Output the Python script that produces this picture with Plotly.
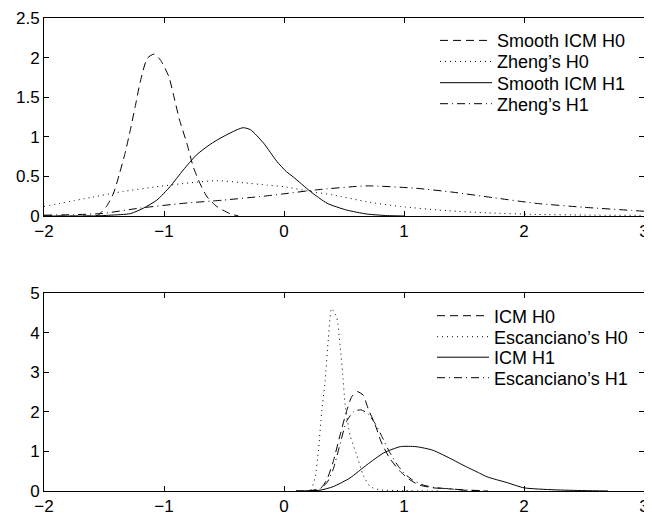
import plotly.graph_objects as go

W, H = 652, 517
OFF = 8  # page body margin of the hosting html page

# ---------------- top panel data ----------------
sicm_h0_x = [-2.0, -1.6, -1.55, -1.48, -1.42, -1.37, -1.325, -1.28, -1.24, -1.2, -1.14, -1.083,
             -1.03, -0.96, -0.91, -0.87, -0.81, -0.756, -0.7, -0.64, -0.56, -0.45, -0.38]
sicm_h0_y = [0.0, 0.0, 0.01, 0.12, 0.29, 0.54, 0.79, 1.09, 1.38, 1.68, 1.99, 2.045,
             1.97, 1.76, 1.46, 1.21, 0.92, 0.62, 0.41, 0.24, 0.12, 0.03, 0.0]

zheng_h0_x = [-2.0, -1.59, -1.34, -1.06, -0.78, -0.56, -0.34, -0.14, 0.0, 0.22, 0.41, 0.69,
              0.97, 1.36, 1.69, 2.1, 2.5, 3.0]
zheng_h0_y = [0.12, 0.24, 0.31, 0.37, 0.42, 0.446, 0.42, 0.39, 0.37, 0.31, 0.265, 0.18,
              0.12, 0.067, 0.04, 0.02, 0.012, 0.008]

sicm_h1_x = [-2.0, -1.6, -1.45, -1.28, -1.17, -1.06, -0.95, -0.84, -0.73, -0.62, -0.51, -0.39,
             -0.34, -0.28, -0.17, -0.06, 0.02, 0.08, 0.22, 0.36, 0.52, 0.69, 0.86, 1.0]
sicm_h1_y = [0.0, 0.0, 0.01, 0.03, 0.1, 0.2, 0.37, 0.58, 0.77, 0.9, 1.0, 1.09,
             1.115, 1.09, 0.92, 0.69, 0.56, 0.49, 0.31, 0.16, 0.076, 0.025, 0.005, 0.0]

zheng_h1_x = [-2.0, -1.53, -1.2, -0.84, -0.51, -0.17, 0.0, 0.27, 0.69, 1.1, 1.41, 1.75,
              2.1, 2.5, 2.9, 3.0]
zheng_h1_y = [0.01, 0.03, 0.1, 0.16, 0.2, 0.25, 0.28, 0.33, 0.38, 0.35, 0.30, 0.23,
              0.16, 0.11, 0.07, 0.06]

# ---------------- bottom panel data ----------------
icm_h0_x = [0.1, 0.2, 0.3, 0.356, 0.41, 0.467, 0.52, 0.564, 0.61, 0.66, 0.70, 0.76, 0.81,
            0.88, 0.97, 1.05, 1.13, 1.24, 1.36, 1.5, 1.7]
icm_h0_y = [0.0, 0.0, 0.05, 0.28, 0.74, 1.41, 2.0, 2.38, 2.51, 2.42, 2.09, 1.67, 1.24,
            0.83, 0.49, 0.28, 0.15, 0.08, 0.06, 0.02, 0.0]

esc_h0_x = [0.1, 0.22, 0.258, 0.286, 0.314, 0.342, 0.37, 0.397, 0.44, 0.467, 0.49, 0.51,
            0.55, 0.606, 0.66, 0.72, 0.8, 1.0, 1.3]
esc_h0_y = [0.0, 0.02, 0.33, 0.99, 2.0, 2.76, 3.86, 4.61, 4.37, 3.69, 2.93, 2.17,
            1.41, 0.91, 0.40, 0.11, 0.03, 0.01, 0.0]

icm_h1_x = [0.1, 0.3, 0.41, 0.55, 0.69, 0.83, 0.97, 1.1, 1.24, 1.38, 1.52, 1.63, 1.69,
            1.86, 2.0, 2.25, 2.5, 2.7]
icm_h1_y = [0.0, 0.02, 0.11, 0.33, 0.66, 0.96, 1.12, 1.12, 1.03, 0.83, 0.61, 0.45, 0.36,
            0.21, 0.08, 0.03, 0.01, 0.0]

esc_h1_x = [0.2, 0.3, 0.36, 0.41, 0.46, 0.52, 0.58, 0.64, 0.70, 0.76, 0.82, 0.88, 0.94,
            1.0, 1.07, 1.15, 1.25, 1.35, 1.5, 1.7]
esc_h1_y = [0.0, 0.06, 0.22, 0.55, 1.1, 1.75, 2.0, 2.05, 1.95, 1.7, 1.35, 0.98, 0.68,
            0.45, 0.28, 0.16, 0.09, 0.06, 0.03, 0.0]

x_ticks = [-2, -1, 0, 1, 2, 3]
top_y_ticks = [0, 0.5, 1, 1.5, 2, 2.5]
bot_y_ticks = [0, 1, 2, 3, 4, 5]

DASH = "8px,5px"
DOT = "1px,4px"
DASHDOT = "8px,4px,1px,4px"
FONT = "Liberation Sans, Arial, sans-serif"

fig = go.Figure()

# legend placement (screen pixel rows), one legend per entry
top_rows = [41.7, 62.7, 84.0, 105.0]
bot_rows = [317.0, 338.0, 358.5, 379.0]
TOP_LEG_X = 427
BOT_LEG_X = 424

entries = [
    (sicm_h0_x, sicm_h0_y, "Smooth ICM H0", DASH, "x", "y", TOP_LEG_X, top_rows[0]),
    (zheng_h0_x, zheng_h0_y, "Zheng’s H0", DOT, "x", "y", TOP_LEG_X, top_rows[1]),
    (sicm_h1_x, sicm_h1_y, "Smooth ICM H1", "solid", "x", "y", TOP_LEG_X, top_rows[2]),
    (zheng_h1_x, zheng_h1_y, "Zheng’s H1", DASHDOT, "x", "y", TOP_LEG_X, top_rows[3]),
    (icm_h0_x, icm_h0_y, "ICM H0", DASH, "x2", "y2", BOT_LEG_X, bot_rows[0]),
    (esc_h0_x, esc_h0_y, "Escanciano’s H0", DOT, "x2", "y2", BOT_LEG_X, bot_rows[1]),
    (icm_h1_x, icm_h1_y, "ICM H1", "solid", "x2", "y2", BOT_LEG_X, bot_rows[2]),
    (esc_h1_x, esc_h1_y, "Escanciano’s H1", DASHDOT, "x2", "y2", BOT_LEG_X, bot_rows[3]),
]

legend_layout = {}
for i, (x, y, name, dash, xa, ya, lx, ly) in enumerate(entries):
    key = "legend" if i == 0 else f"legend{i + 1}"
    fig.add_trace(go.Scatter(x=x, y=y, name=name, mode="lines",
                             line=dict(color="black", width=1, dash=dash, shape="spline", smoothing=0.6),
                             xaxis=xa, yaxis=ya, legend=key))
    legend_layout[key] = dict(x=lx / W, y=1 - (ly - 9) / H, xanchor="left", yanchor="middle",
                              bgcolor="rgba(0,0,0,0)", borderwidth=0, itemwidth=52,
                              font=dict(family=FONT, size=18, color="black"))

xdom = [(44 - OFF) / W, (644 - OFF) / W]
top_dom = [1 - (216 - OFF) / H, 1 - (18 - OFF) / H]
bot_dom = [1 - (491 - OFF) / H, 1 - (293 - OFF) / H]

axis_common = dict(showline=True, linecolor="black", linewidth=1, mirror="ticks",
                   ticks="inside", ticklen=5, tickcolor="black", tickwidth=1,
                   showgrid=False, zeroline=False, automargin=False,
                   tickfont=dict(family=FONT, size=17, color="black"))

fig.update_layout(
    template="none",
    width=W, height=H,
    margin=dict(l=0, r=0, t=0, b=0, pad=0),
    paper_bgcolor="white", plot_bgcolor="white",
    xaxis=dict(domain=xdom, range=[-2, 3], tickvals=x_ticks, anchor="y", **axis_common),
    yaxis=dict(domain=top_dom, range=[0, 2.5], tickvals=top_y_ticks, anchor="x", **axis_common),
    xaxis2=dict(domain=xdom, range=[-2, 3], tickvals=x_ticks, anchor="y2", **axis_common),
    yaxis2=dict(domain=bot_dom, range=[0, 5], tickvals=bot_y_ticks, anchor="x2", **axis_common),
    showlegend=True,
    **legend_layout,
)

fig.write_html("out.html")
